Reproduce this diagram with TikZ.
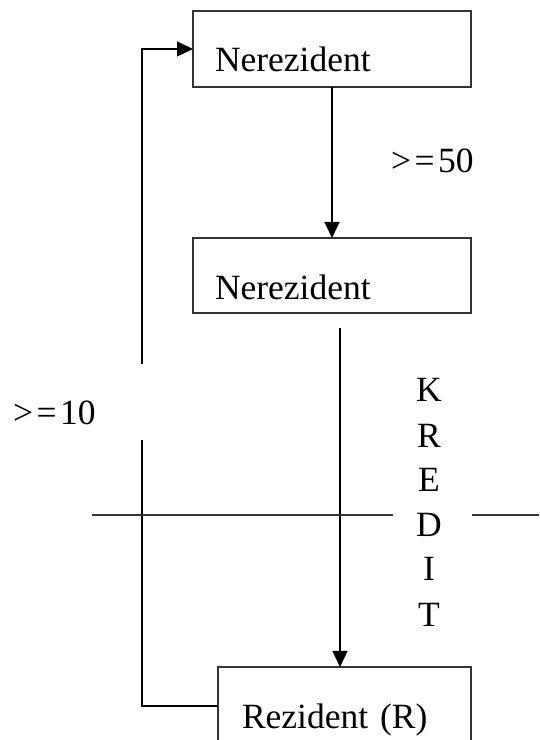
\documentclass[tikz,border=0pt]{standalone}
\usepackage{fontspec}
\setmainfont{Liberation Serif}
\usetikzlibrary{arrows.meta}
\begin{document}
\begin{tikzpicture}[x=1pt,y=1pt,
  boxnode/.style={draw=black!80, line width=1.4pt, inner sep=0pt, outer sep=0pt, anchor=north west},
  lbl/.style={inner sep=0pt, outer sep=0pt, anchor=base west, font=\fontsize{35.5}{42}\selectfont},
  letter/.style={inner sep=0pt, outer sep=0pt, anchor=base, font=\fontsize{35.5}{42}\selectfont},
  conn/.style={line width=1.3pt, black},
  arr/.style={conn, -{Triangle[length=16pt,width=15pt]}}]
\clip (0,0) rectangle (539,740);
\fill[white] (0,0) rectangle (539,740);
% boxes
\node[boxnode, minimum width=278pt, minimum height=76pt] (b1) at (193,729) {};
\node[boxnode, minimum width=278pt, minimum height=75pt] (b2) at (193,502) {};
\node[boxnode, minimum width=253pt, minimum height=90pt] (b3) at (218,73) {};
% box texts
\node[lbl] (t1) at (215,668) {Nerezident};
\node[lbl] (t2) at (215,440) {Nerezident};
\node[lbl] (t3) at (242,11) {Rezident\kern3pt{} (R)};
% labels
\node[lbl] (l50) at (391,567) {{>}\kern3.5pt{=}\kern3.5pt50};
\node[lbl] (l10) at (13,315) {{>}\kern3.5pt{=}\kern3.5pt10};
\node[letter] (k1) at (429,338) {K};
\node[letter] (k2) at (429,292) {R};
\node[letter] (k3) at (429,248) {E};
\node[letter] (k4) at (429,203) {D};
\node[letter] (k5) at (429,159) {I};
\node[letter] (k6) at (429,113) {T};
% helper coordinates
\coordinate (xa) at (332,0);
\coordinate (xb) at (340,0);
\coordinate (kstart) at (340,412);
\coordinate (yloop3) at (0,34);
\coordinate (yloop1) at (0,691);
\coordinate (gaplow) at (142,300);
\coordinate (gaphigh) at (142,376);
\coordinate (h1) at (92,225);
\coordinate (h2) at (393,225);
\coordinate (h3) at (472,225);
\coordinate (h4) at (539,225);
% connectors
\draw[arr] (b1.south -| xa) -- (b2.north -| xa);
\draw[arr] (kstart) -- (b3.north -| xb);
\draw[conn] (b3.west |- yloop3) -| (gaplow);
\draw[arr] (gaphigh) |- (b1.west |- yloop1);
\draw[conn, black!80] (h1) -- (h2);
\draw[conn, black!80] (h3) -- (h4);
\end{tikzpicture}
\end{document}
